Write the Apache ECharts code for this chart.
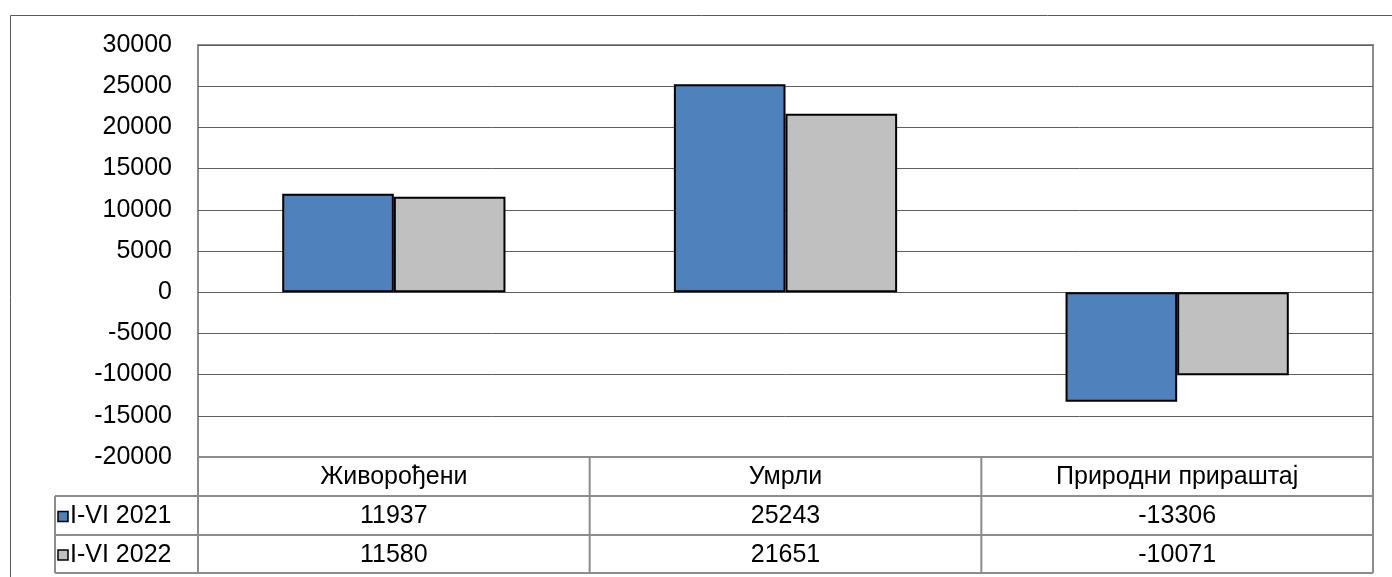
<!DOCTYPE html>
<html>
<head>
<meta charset="utf-8">
<script src="https://cdn.jsdelivr.net/npm/echarts@6/dist/echarts.min.js"></script>
<style>
  html, body { margin: 0; padding: 0; background: #fff; }
  #chart { width: 1392px; height: 577px; }
</style>
</head>
<body>
<div id="chart"></div>
<script>
// data
const categories = ['Живорођени', 'Умрли', 'Природни прираштај'];
const seriesNames = ['I-VI 2021', 'I-VI 2022'];
const values2021 = [11937, 25243, -13306];
const values2022 = [11580, 21651, -10071];
const yMin = -20000, yMax = 30000, yStep = 5000;

const colors = ['#4F81BD', '#C0C0C0'];
const font = '"Liberation Sans", Arial, sans-serif';
const fontSize = 25;
const W = 1392, H = 577;
const gridL = 198, gridR = 1373, gridT = 45, gridB = 457;
const rowH = [gridB, 496, 535, 573];
const legendL = 55;
const lineCol = '#8c8c8c';

const chart = echarts.init(document.getElementById('chart'));

// table below the plot
const colW = (gridR - gridL) / categories.length;
const graphics = [];
function hline(x1, x2, y) {
  graphics.push({ type: 'line', shape: { x1: x1, y1: y, x2: x2, y2: y }, style: { stroke: lineCol, lineWidth: 2 }, z: 10 });
}
function vline(x, y1, y2) {
  graphics.push({ type: 'line', shape: { x1: x, y1: y1, x2: x, y2: y2 }, style: { stroke: lineCol, lineWidth: 2 }, z: 10 });
}
function text(str, x, y, align) {
  graphics.push({
    type: 'text', x: x, y: y, z: 11,
    style: { text: str, font: fontSize + 'px ' + font, fill: '#000', align: align, verticalAlign: 'middle' }
  });
}
// outer frame
graphics.push({ type: 'rect', shape: { x: 10.5, y: 15.5, width: 1400, height: 600 }, style: { fill: 'none', stroke: '#5a5a5a', lineWidth: 1 }, z: 1 });
hline(gridL, gridR, rowH[0]);
hline(legendL, gridR, rowH[1]);
hline(legendL, gridR, rowH[2]);
hline(legendL, gridR, rowH[3]);
vline(legendL, rowH[1], rowH[3]);
for (let i = 0; i <= categories.length; i++) vline(gridL + colW * i, rowH[0], rowH[3]);

categories.forEach((c, i) => {
  const cx = gridL + colW * (i + 0.5);
  text(c, cx, (rowH[0] + rowH[1]) / 2 + 1, 'center');
  text(String(values2021[i]), cx, (rowH[1] + rowH[2]) / 2 + 1, 'center');
  text(String(values2022[i]), cx, (rowH[2] + rowH[3]) / 2 + 1, 'center');
});
seriesNames.forEach((n, k) => {
  const cy = (rowH[k + 1] + rowH[k + 2]) / 2;
  graphics.push({ type: 'rect', shape: { x: 58, y: cy - 4, width: 10, height: 10 }, style: { fill: colors[k], stroke: '#000', lineWidth: 1.5 }, z: 11 });
  text(n, 70, cy + 1, 'left');
});

const option = {
  animation: false,
  grid: { left: gridL, right: W - gridR, top: gridT, bottom: H - gridB, show: true, borderColor: lineCol, borderWidth: 2 },
  xAxis: {
    type: 'category',
    data: categories,
    axisLine: { show: false },
    axisTick: { show: false },
    axisLabel: { show: false }
  },
  yAxis: {
    type: 'value',
    min: yMin, max: yMax, interval: yStep,
    axisLine: { show: false },
    axisTick: { show: false },
    axisLabel: { color: '#000', fontSize: fontSize, fontFamily: font, margin: 26, formatter: (v) => String(v) },
    splitLine: { lineStyle: { color: '#5e5e5e', width: 1 } }
  },
  series: [
    {
      name: seriesNames[0], type: 'bar', data: values2021,
      barGap: '0%', barCategoryGap: '43%',
      itemStyle: { color: colors[0], borderColor: '#000', borderWidth: 2 }
    },
    {
      name: seriesNames[1], type: 'bar', data: values2022,
      itemStyle: { color: colors[1], borderColor: '#000', borderWidth: 2 }
    }
  ],
  graphic: graphics
};
chart.setOption(option);
</script>
</body>
</html>
